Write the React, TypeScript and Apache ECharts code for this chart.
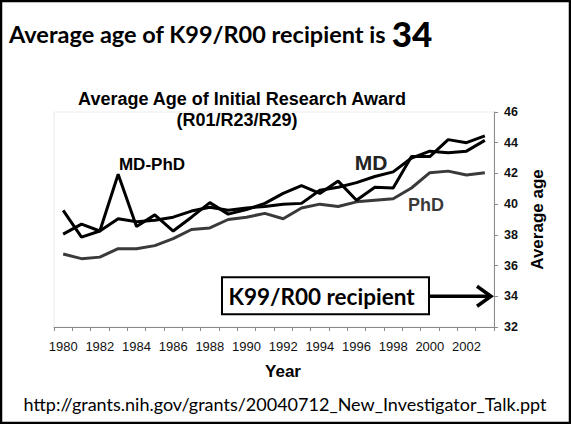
import React, { useEffect, useRef } from "react";
import * as echarts from "echarts";

const years = [
  "1980", "1981", "1982", "1983", "1984", "1985", "1986", "1987", "1988", "1989", "1990", "1991",
  "1992", "1993", "1994", "1995", "1996", "1997", "1998", "1999", "2000", "2001", "2002", "2003",
];
const mdPhd = [
  39.6, 37.85, 38.25, 41.95, 38.55, 39.3, 38.25, 39.15, 40.1, 39.35, 39.65, 40.05,
  40.7, 41.2, 40.7, 41.5, 40.25, 41.1, 41.05, 43.1, 43.1, 44.2, 44.0, 44.45,
];
const md = [
  38.05, 38.7, 38.25, 39.05, 38.85, 38.95, 39.15, 39.55, 39.8, 39.6, 39.75, 39.85,
  40.0, 40.05, 40.9, 41.1, 41.4, 41.8, 42.1, 43.0, 43.45, 43.35, 43.45, 44.15,
];
const phd = [
  36.75, 36.45, 36.55, 37.1, 37.1, 37.3, 37.75, 38.35, 38.45, 39.0, 39.15, 39.4,
  39.05, 39.75, 40.0, 39.85, 40.15, 40.25, 40.35, 41.05, 42.05, 42.15, 41.9, 42.05,
];
const yMin = 32;
const yMax = 46;
const yStep = 2;
const k99Age = 34;

const W = 571;
const H = 424;
const GRID = { left: 54, right: 77, top: 112, bottom: 97 };
const ARIAL = '"Liberation Sans", Arial, sans-serif';
const CAL = 'Lato, "Open Sans", sans-serif';

export default function App() {
  const ref = useRef<HTMLDivElement>(null);
  useEffect(() => {
    const chart = echarts.init(ref.current!, null, { renderer: "svg" });
    const lineSeries = (name: string, data: number[], color: string) => ({
      name,
      type: "line",
      data,
      showSymbol: false,
      symbol: "none",
      lineStyle: { color, width: 3 },
      z: 3,
    });
    chart.setOption({
      animation: false,
      backgroundColor: "#fff",
      textStyle: { fontFamily: ARIAL },
      grid: {
        ...GRID,
        show: true,
        borderColor: "#ececec",
        borderWidth: 1,
        backgroundColor: "transparent",
      },
      xAxis: {
        type: "category",
        data: years,
        boundaryGap: true,
        name: "Year",
        nameLocation: "middle",
        nameGap: 36,
        nameTextStyle: { fontFamily: ARIAL, fontWeight: "bold", fontSize: 17, color: "#000", padding: [0, 0, 0, 18] },
        axisLine: { show: true, lineStyle: { color: "#8a8a8a", width: 1 } },
        axisTick: { show: true, inside: false, length: 4, interval: 0, lineStyle: { color: "#8a8a8a" } },
        axisLabel: { interval: 1, fontSize: 13, color: "#111", margin: 13, fontFamily: ARIAL },
        splitLine: { show: false },
      },
      yAxis: {
        type: "value",
        position: "right",
        min: yMin,
        max: yMax,
        interval: yStep,
        name: "Average age",
        nameLocation: "middle",
        nameRotate: 90,
        nameGap: 34,
        nameTextStyle: { fontFamily: ARIAL, fontWeight: "bold", fontSize: 17, color: "#000" },
        axisLine: { show: true, lineStyle: { color: "#8a8a8a", width: 1 } },
        axisTick: { show: true, inside: false, length: 4, lineStyle: { color: "#8a8a8a" } },
        axisLabel: { fontSize: 12.5, fontWeight: "bold", color: "#111", margin: 10, fontFamily: ARIAL },
        splitLine: { show: false },
      },
      series: [
        lineSeries("PhD", phd, "#3a3a3a"),
        lineSeries("MD", md, "#000"),
        lineSeries("MD-PhD", mdPhd, "#000"),
      ],
    });

    const yArrow = chart.convertToPixel({ yAxisIndex: 0 }, k99Age) as number;
    const axisX = W - GRID.right;
    const boxX = 222, boxW = 207, boxH = 37;
    const boxY = yArrow - 19;

    chart.setOption({
      graphic: [
        {
          type: "rect",
          shape: { x: 1, y: 1, width: W - 2, height: H - 2 },
          style: { fill: "none", stroke: "#000", lineWidth: 2.5 },
          z: 100,
        },
        {
          type: "text",
          x: 9,
          y: 50,
          style: {
            text: "{a|Average age of K99/R00 recipient is }{b|34}",
            textVerticalAlign: "bottom",
            rich: {
              a: { fontFamily: CAL, fontWeight: "bold", fontSize: 23.5, fill: "#000", verticalAlign: "bottom", padding: [0, 0, 4, 0] },
              b: { fontFamily: CAL, fontWeight: 900, fontSize: 35, fill: "#000", verticalAlign: "bottom" },
            },
          },
        },
        {
          type: "text",
          x: 242,
          y: 99,
          style: {
            text: "Average Age of Initial Research Award",
            fontFamily: ARIAL, fontWeight: "bold", fontSize: 18, fill: "#000",
            align: "center", verticalAlign: "middle",
          },
        },
        {
          type: "text",
          x: 237,
          y: 120,
          style: {
            text: "(R01/R23/R29)",
            fontFamily: ARIAL, fontWeight: "bold", fontSize: 18, fill: "#000",
            align: "center", verticalAlign: "middle",
          },
        },
        {
          type: "text",
          x: 152,
          y: 164,
          style: {
            text: "MD-PhD",
            fontFamily: ARIAL, fontWeight: "bold", fontSize: 17, fill: "#000",
            align: "center", verticalAlign: "middle",
          },
        },
        {
          type: "text",
          x: 371,
          y: 162,
          style: {
            text: "MD",
            fontFamily: ARIAL, fontWeight: "bold", fontSize: 21, fill: "#222",
            align: "center", verticalAlign: "middle",
          },
        },
        {
          type: "text",
          x: 426,
          y: 205,
          style: {
            text: "PhD",
            fontFamily: ARIAL, fontWeight: "bold", fontSize: 18, fill: "#3a3a3a",
            align: "center", verticalAlign: "middle",
          },
        },
        {
          type: "rect",
          shape: { x: boxX, y: boxY, width: boxW, height: boxH },
          style: { fill: "#fff", stroke: "#000", lineWidth: 2 },
          z: 10,
        },
        {
          type: "text",
          x: boxX + boxW / 2 - 4,
          y: boxY + boxH / 2 + 1,
          style: {
            text: "K99/R00 recipient",
            fontFamily: CAL, fontWeight: "bold", fontSize: 22.5, fill: "#000",
            align: "center", verticalAlign: "middle",
          },
          z: 11,
        },
        {
          type: "line",
          shape: { x1: boxX + boxW, y1: yArrow, x2: axisX - 3, y2: yArrow },
          style: { stroke: "#000", lineWidth: 3.5 },
          z: 10,
        },
        {
          type: "polyline",
          shape: { points: [[axisX - 17, yArrow - 10], [axisX - 3, yArrow], [axisX - 17, yArrow + 10]] },
          style: { stroke: "#000", lineWidth: 3.5, fill: "none", lineJoin: "miter" },
          z: 10,
        },
        {
          type: "text",
          x: 285,
          y: 404,
          style: {
            text: "http://grants.nih.gov/grants/20040712_New_Investigator_Talk.ppt",
            fontFamily: CAL, fontSize: 18, fill: "#000",
            align: "center", verticalAlign: "middle",
          },
        },
      ],
    });
    return () => chart.dispose();
  }, []);
  return (
    <div
      ref={ref}
      style={{ position: "absolute", left: 0, top: 0, width: W, height: H, background: "#fff" }}
    />
  );
}
